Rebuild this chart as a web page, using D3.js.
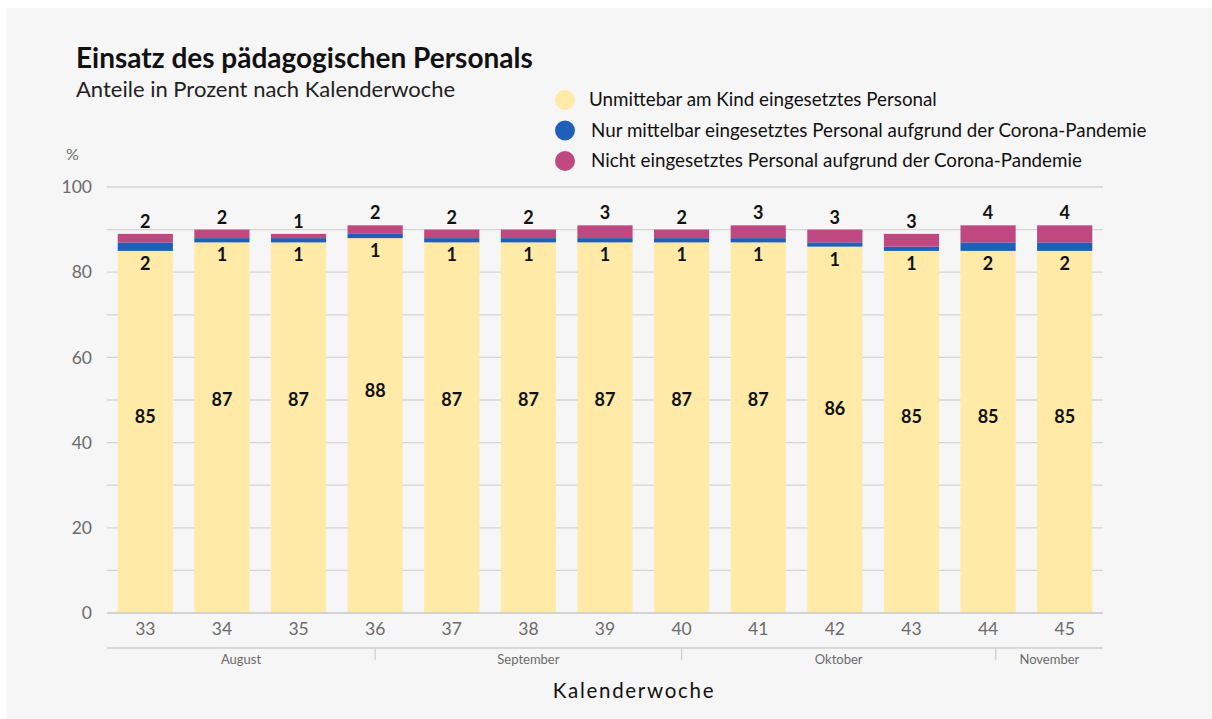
<!DOCTYPE html>
<html>
<head>
<meta charset="utf-8">
<script src="https://cdn.jsdelivr.net/npm/d3@7"></script>
<style>
  body { margin: 0; background: #ffffff; }
  svg { display: block; font-family: Lato, "Open Sans", sans-serif; }
</style>
</head>
<body>
<div id="chart"></div>
<script>
// Data
const WEEKS = ["33", "34", "35", "36", "37", "38", "39", "40", "41", "42", "43", "44", "45"];
const DIRECT = [85, 87, 87, 88, 87, 87, 87, 87, 87, 86, 85, 85, 85];
const INDIRECT = [2, 1, 1, 1, 1, 1, 1, 1, 1, 1, 1, 2, 2];
const ABSENT = [2, 2, 1, 2, 2, 2, 3, 2, 3, 3, 3, 4, 4];
const SERIES_NAMES = [
  "Unmittebar am Kind eingesetztes Personal",
  "Nur mittelbar eingesetztes Personal aufgrund der Corona-Pandemie",
  "Nicht eingesetztes Personal aufgrund der Corona-Pandemie"
];
const Y_TICKS = [0, 20, 40, 60, 80, 100];
// month start positions in week units (index of week band, fractional)
const MONTHS = ["August", "September", "Oktober", "November"];
const MONTH_BOUNDS = [-0.5, 3, 7, 11.1, 12.5];

const COLORS = ["#ffeaa8", "#1f5fba", "#bf4880"];

const FRAME_WIDTH = 1212;
const FRAME_HEIGHT = 719;
const MARGINS = {left: 107, right: 109, top: 187, bottom: 106};
const VIS_WIDTH = FRAME_WIDTH - MARGINS.left - MARGINS.right;
const VIS_HEIGHT = FRAME_HEIGHT - MARGINS.top - MARGINS.bottom;

const svg = d3.select("#chart")
  .append("svg")
    .attr("width", FRAME_WIDTH)
    .attr("height", FRAME_HEIGHT);

// light grey panel
svg.append("rect")
  .attr("x", 7).attr("y", 8)
  .attr("width", FRAME_WIDTH - 7).attr("height", FRAME_HEIGHT - 8)
  .attr("fill", "#f6f6f6");

// titles
svg.append("text")
  .attr("x", 76).attr("y", 68)
  .attr("font-size", "28px").attr("font-weight", "bold")
  .attr("fill", "#111")
  .text("Einsatz des pädagogischen Personals");

svg.append("text")
  .attr("x", 76).attr("y", 97)
  .attr("font-size", "22px")
  .attr("fill", "#222")
  .text("Anteile in Prozent nach Kalenderwoche");

// legend
const legend = svg.append("g");
SERIES_NAMES.forEach((name, i) => {
  const row = legend.append("g")
    .attr("transform", "translate(565," + (100 + i * 30.5) + ")");
  row.append("circle").attr("r", 10).attr("fill", COLORS[i]);
  row.append("text")
    .attr("x", 24 + (i > 0 ? 2 : 0)).attr("y", 6)
    .attr("font-size", "18.8px").attr("fill", "#111")
    .text(name);
});

// scales
const X_SCALE = d3.scaleBand()
  .domain(WEEKS)
  .range([0, VIS_WIDTH])
  .paddingInner(0.28)
  .paddingOuter(0.14);

const Y_SCALE = d3.scaleLinear()
  .domain([0, 100])
  .range([VIS_HEIGHT, 0]);

const plot = svg.append("g")
  .attr("transform", "translate(" + MARGINS.left + "," + MARGINS.top + ")");

// gridlines every 10
plot.append("g")
  .selectAll("line")
  .data(d3.range(10, 101, 10))
  .enter()
  .append("line")
    .attr("x1", 0).attr("x2", VIS_WIDTH)
    .attr("y1", d => Y_SCALE(d)).attr("y2", d => Y_SCALE(d))
    .attr("stroke", "#d4d4d4").attr("stroke-width", 1.3);

// y axis labels
plot.append("g")
  .call(d3.axisLeft(Y_SCALE).tickValues(Y_TICKS).tickSize(0).tickPadding(15))
  .call(g => g.select(".domain").remove())
  .selectAll("text")
    .attr("font-size", "17.5px")
    .attr("fill", "#6b6b6b")
    .attr("font-family", "Lato, sans-serif");

svg.append("text")
  .attr("x", 66).attr("y", 160)
  .attr("font-size", "16px").attr("fill", "#6b6b6b")
  .text("%");

// stacked bars
const rows = WEEKS.map((w, i) => ({week: w, a: DIRECT[i], b: INDIRECT[i], c: ABSENT[i]}));
const stack = d3.stack().keys(["a", "b", "c"])(rows);

plot.append("g")
  .selectAll("g")
  .data(stack)
  .enter()
  .append("g")
    .attr("fill", (d, i) => COLORS[i])
  .selectAll("rect")
  .data(d => d)
  .enter()
  .append("rect")
    .attr("x", d => X_SCALE(d.data.week))
    .attr("y", d => Y_SCALE(d[1]))
    .attr("width", X_SCALE.bandwidth())
    .attr("height", d => Y_SCALE(d[0]) - Y_SCALE(d[1]));

// baseline
plot.append("line")
  .attr("x1", 0).attr("x2", VIS_WIDTH)
  .attr("y1", VIS_HEIGHT).attr("y2", VIS_HEIGHT)
  .attr("stroke", "#c8c8c8").attr("stroke-width", 1.5);

// value labels
const labels = plot.append("g")
  .attr("font-size", "18px").attr("font-weight", "bold")
  .attr("fill", "#111").attr("text-anchor", "middle");

const cx = d => X_SCALE(d.week) + X_SCALE.bandwidth() / 2;

// the big labels sit higher for larger values in the original (not centred)
labels.selectAll(".lab-a")
  .data(rows).enter().append("text")
    .attr("x", cx)
    .attr("y", d => Y_SCALE(2 * d.a - 124) + 6)
    .text(d => d.a);

labels.selectAll(".lab-b")
  .data(rows).enter().append("text")
    .attr("x", cx)
    .attr("y", d => Y_SCALE(d.a) + 19)
    .text(d => d.b);

labels.selectAll(".lab-c")
  .data(rows).enter().append("text")
    .attr("x", cx)
    .attr("y", d => Y_SCALE(d.a + d.b + d.c) - 6)
    .text(d => d.c);

// x axis week labels
plot.append("g")
  .attr("transform", "translate(0," + VIS_HEIGHT + ")")
  .call(d3.axisBottom(X_SCALE).tickSize(0).tickPadding(10))
  .call(g => g.select(".domain").remove())
  .selectAll("text")
    .attr("font-size", "17.5px")
    .attr("fill", "#6b6b6b")
    .attr("font-family", "Lato, sans-serif");

// month axis
const step = X_SCALE.step();
const weekPos = w => X_SCALE(WEEKS[0]) + X_SCALE.bandwidth() / 2 + w * step;
const monthY = VIS_HEIGHT + 35;

plot.append("line")
  .attr("x1", 0).attr("x2", VIS_WIDTH)
  .attr("y1", monthY).attr("y2", monthY)
  .attr("stroke", "#cfcfcf").attr("stroke-width", 1.3);

plot.append("g")
  .selectAll("line")
  .data(MONTH_BOUNDS.slice(1, -1))
  .enter()
  .append("line")
    .attr("x1", d => weekPos(d)).attr("x2", d => weekPos(d))
    .attr("y1", monthY).attr("y2", monthY + 12)
    .attr("stroke", "#cfcfcf").attr("stroke-width", 1.3);

plot.append("g")
  .selectAll("text")
  .data(MONTHS)
  .enter()
  .append("text")
    .attr("x", (d, i) => {
      const x0 = Math.max(0, weekPos(MONTH_BOUNDS[i]));
      const x1 = Math.min(VIS_WIDTH, weekPos(MONTH_BOUNDS[i + 1]));
      return (x0 + x1) / 2;
    })
    .attr("y", monthY + 16)
    .attr("text-anchor", "middle")
    .attr("font-size", "13px")
    .attr("fill", "#6b6b6b")
    .text(d => d);

// x axis title
svg.append("text")
  .attr("x", 634).attr("y", 698)
  .attr("text-anchor", "middle")
  .attr("font-size", "20.5px")
  .attr("letter-spacing", "1.7px")
  .attr("fill", "#111")
  .text("Kalenderwoche");
</script>
</body>
</html>
